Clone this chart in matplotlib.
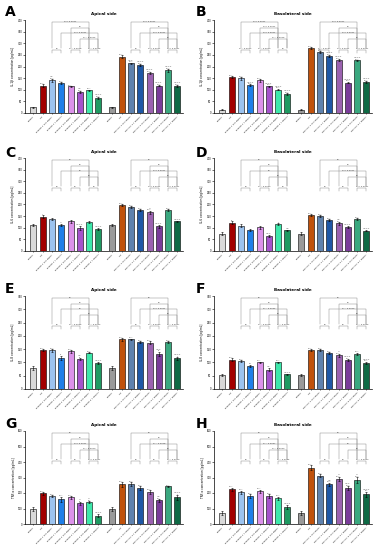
import matplotlib
matplotlib.use("Agg")
import matplotlib.pyplot as plt
import numpy as np

# ----------------------------------------------------------------- data
GROUP1_LABELS = ["Control", "LPS",
                 "Extract 1 100 µg/mL", "Extract 1 1 mg/mL",
                 "Extract 2 100 µg/mL", "Extract 2 1 mg/mL",
                 "Extract 3 100 µg/mL", "Extract 3 1 mg/mL"]
GROUP2_LABELS = ["Control", "LPS",
                 "Fraction 1 100 µg/mL", "Fraction 1 1 mg/mL",
                 "Fraction 2 100 µg/mL", "Fraction 2 1 mg/mL",
                 "Fraction 3 100 µg/mL", "Fraction 3 1 mg/mL"]

COLORS1 = ["#d9d9d9", "#a30000", "#9cc3ef", "#1f7fe8",
           "#dc92ea", "#a552cc", "#3de8ab", "#1f9a62"]
COLORS2 = ["#9a9a9a", "#c0520c", "#5f82ae", "#1f58a6",
           "#9b62b0", "#7a3c9a", "#3aa87f", "#0f6a45"]

PANEL_LETTERS = ["A", "B", "C", "D", "E", "F", "G", "H"]
PANEL_TITLES = ["Apical side", "Basolateral side"] * 4
YLABELS = ["IL-1β concentration [pg/mL]"] * 2 + \
          ["IL-6 concentration [pg/mL]"] * 2 + \
          ["IL-8 concentration [pg/mL]"] * 2 + \
          ["TNF-α concentration [pg/mL]"] * 2
YMAX = [400, 400, 400, 400, 350, 350, 600, 600]
YSTEP = [50, 50, 50, 50, 50, 50, 100, 100]

# bar heights: group 1 then group 2 (8 bars each)
MEANS = [
    [24, 117, 140, 129, 114, 90, 97, 64, 24, 243, 214, 207, 171, 117, 183, 117],   # A
    [14, 153, 149, 119, 141, 114, 101, 83, 14, 281, 261, 247, 227, 131, 226, 133],  # B
    [112, 148, 137, 111, 128, 99, 125, 94, 112, 196, 190, 176, 167, 106, 176, 127],  # C
    [75, 122, 108, 91, 102, 66, 115, 89, 75, 154, 150, 134, 119, 102, 137, 88],     # D
    [78, 146, 146, 118, 142, 113, 137, 97, 78, 187, 187, 176, 174, 133, 178, 115],  # E
    [53, 110, 105, 87, 100, 72, 100, 55, 53, 147, 147, 134, 127, 108, 132, 98],     # F
    [96, 197, 180, 161, 171, 133, 144, 54, 96, 257, 257, 234, 206, 152, 242, 171],  # G
    [73, 225, 204, 180, 210, 180, 165, 111, 73, 364, 311, 257, 289, 234, 283, 191], # H
]
ERRORS = [
    [3, 6, 5, 4, 3, 5, 4, 4, 3, 6, 3, 5, 4, 3, 5, 4],
    [2, 4, 5, 4, 6, 4, 4, 4, 2, 4, 4, 4, 4, 4, 3, 4],
    [5, 6, 5, 4, 6, 8, 4, 5, 5, 4, 5, 4, 7, 6, 5, 4],
    [5, 8, 6, 3, 7, 4, 5, 3, 5, 4, 3, 4, 6, 4, 3, 4],
    [8, 4, 5, 8, 5, 5, 3, 3, 8, 5, 3, 4, 6, 8, 4, 6],
    [4, 5, 4, 5, 3, 6, 3, 3, 4, 3, 3, 4, 5, 4, 5, 5],
    [12, 10, 9, 16, 10, 8, 6, 12, 12, 16, 14, 12, 12, 10, 5, 14],
    [14, 10, 12, 12, 12, 14, 12, 14, 14, 14, 10, 10, 14, 12, 20, 18],
]
# significance marks above each bar vs. control (*) and vs. LPS (#)
MARKS = [
    ["", "****", "##\n****", "****", "****", "##\n****", "****", "####\n****",
     "", "****", "###\n****", "####\n****", "####\n****", "####\n****", "####\n****", "####\n****"],
    ["", "****", "****", "####\n****", "****", "####\n****", "####\n****", "####\n****",
     "", "****", "##\n****", "####\n****", "####\n****", "####\n****", "####\n****", "####\n****"],
    ["", "*", "", "#", "", "####", "", "####",
     "", "****", "****", "****", "#\n****", "####", "****", "####"],
    ["", "**", "", "", "", "###", "*", "##",
     "", "****", "****", "****", "##\n***", "####", "****", "####"],
    ["", "****", "****", "**", "****", "##\n**", "****", "####",
     "", "****", "****", "****", "****", "###\n**", "****", "####\n*"],
    ["", "****", "****", "*\n**", "****", "##", "****", "####",
     "", "****", "****", "****", "#\n****", "####\n***", "****", "####\n****"],
    ["", "****", "****", "****", "****", "#\n**", "#\n***", "####",
     "", "****", "****", "****", "****", "##\n***", "****", "####\n*"],
    ["", "****", "****", "****", "****", "****", "****", "####",
     "", "****", "****", "##\n****", "#\n****", "###\n****", "#\n****", "####\n***"],
]
# bracket labels: (2,6) (4,6) (3,7) (5,7) then (2,3) (4,5) (6,7), per group
BRACKETS1 = [
    ["p < 0.0001", "ns", "p < 0.0001", "p = 0.0002", "ns", "p = 0.0008", "p = 0.0006"],
    ["p < 0.0001", "p < 0.0001", "p < 0.0001", "p = 0.0006", "p = 0.0004", "p = 0.0010", "ns"],
    ["ns", "ns", "ns", "ns", "ns", "ns", "ns"],
    ["ns", "ns", "ns", "ns", "ns", "p = 0.0250", "ns"],
    ["ns", "ns", "ns", "ns", "ns", "p = 0.0256", "p = 0.0274"],
    ["ns", "ns", "p = 0.0062", "ns", "ns", "p = 0.0108", "p = 0.0002"],
    ["ns", "ns", "p < 0.0001", "p = 0.0010", "ns", "ns", "p < 0.0001"],
    ["ns", "ns", "p = 0.0037", "p = 0.0050", "ns", "ns", "p = 0.0185"],
]
BRACKETS2 = [
    ["p < 0.0001", "ns", "p < 0.0001", "ns", "ns", "p < 0.0001", "p < 0.0001"],
    ["p < 0.0001", "ns", "p < 0.0001", "ns", "p = 0.0137", "p < 0.0001", "p < 0.0001"],
    ["ns", "ns", "p < 0.0001", "ns", "ns", "p < 0.0001", "p < 0.0001"],
    ["ns", "ns", "p < 0.0001", "ns", "ns", "ns", "p < 0.0001"],
    ["ns", "ns", "p < 0.0001", "ns", "ns", "p = 0.0044", "p = 0.0007"],
    ["ns", "ns", "p = 0.0003", "ns", "ns", "ns", "p = 0.0026"],
    ["ns", "ns", "p = 0.0008", "ns", "ns", "ns", "p = 0.0003"],
    ["ns", "ns", "ns", "ns", "ns", "ns", "p = 0.0100"],
]

BRACKET_PAIRS = [(2, 6), (4, 6), (3, 7), (5, 7), (2, 3), (4, 5), (6, 7)]
BRACKET_Y = [0.975, 0.915, 0.855, 0.795, 0.68, 0.68, 0.68]

# ----------------------------------------------------------------- layout
W, H = 379, 550
fig = plt.figure(figsize=(W / 100, H / 100), dpi=100)
plt.rcParams["font.family"] = ["DejaVu Sans"]

AX_LEFT = [25, 214]
AX_TOP = [20, 158, 296, 431]
AX_W, AX_H = 158, 93
LETTER_Y = [12, 153, 289, 424]
LETTER_X = [5, 196]

x1 = np.arange(8)
x2 = np.arange(8) + 8.5
xs = np.concatenate([x1, x2])
labels = GROUP1_LABELS + GROUP2_LABELS
colors = COLORS1 + COLORS2

for i in range(8):
    row, col = divmod(i, 2)
    ax = fig.add_axes([AX_LEFT[col] / W, 1 - (AX_TOP[row] + AX_H) / H,
                       AX_W / W, AX_H / H])
    ax.bar(xs, MEANS[i], width=0.65, color=colors, edgecolor="black",
           linewidth=0.4, zorder=2)
    ax.errorbar(xs, MEANS[i], yerr=ERRORS[i], fmt="none", ecolor="black",
                elinewidth=0.4, capsize=0.8, capthick=0.4, zorder=3)
    ymax = YMAX[i]
    for x, m, e, mk in zip(xs, MEANS[i], ERRORS[i], MARKS[i]):
        if mk:
            ax.text(x, m + e + ymax * 0.01, mk, ha="center", va="bottom",
                    fontsize=1.6, color="#555555", linespacing=0.9)

    trans = ax.get_xaxis_transform()
    for off, blabels in [(0, BRACKETS1[i]), (8.5, BRACKETS2[i])]:
        for k, ((a, b), yb, lab) in enumerate(zip(BRACKET_PAIRS, BRACKET_Y, blabels)):
            xa, xb = a + off, b + off
            leg = yb - 0.03 if k >= 4 else 0.70
            ax.plot([xa, xa, xb, xb], [leg, yb, yb, leg], transform=trans,
                    color="#8c8c8c", lw=0.35, clip_on=False, zorder=1)
            ax.text((xa + xb) / 2, yb + 0.008, lab, transform=trans,
                    ha="center", va="bottom", fontsize=1.6, color="#333333")

    ax.set_xlim(-0.9, 16.1)
    ax.set_ylim(0, ymax)
    ax.set_yticks(np.arange(0, ymax + 1, YSTEP[i]))
    ax.set_xticks(xs)
    ax.set_xticklabels(labels, rotation=45, ha="right", rotation_mode="anchor",
                       fontsize=1.6)
    ax.tick_params(axis="y", labelsize=1.8, length=1.2, width=0.4, pad=0.8)
    ax.tick_params(axis="x", length=1.0, width=0.4, pad=0.8)
    ax.set_ylabel(YLABELS[i], fontsize=2.1, labelpad=1.5)
    for s in ["top", "right"]:
        ax.spines[s].set_visible(False)
    for s in ["left", "bottom"]:
        ax.spines[s].set_linewidth(0.5)
    ax.set_title(PANEL_TITLES[i], fontsize=3.0, fontweight="bold", pad=3.5)
    fig.text(LETTER_X[col] / W, 1 - LETTER_Y[row] / H, PANEL_LETTERS[i],
             fontsize=10, fontweight="bold", ha="left", va="center")

fig.savefig("out.png", dpi=100)
